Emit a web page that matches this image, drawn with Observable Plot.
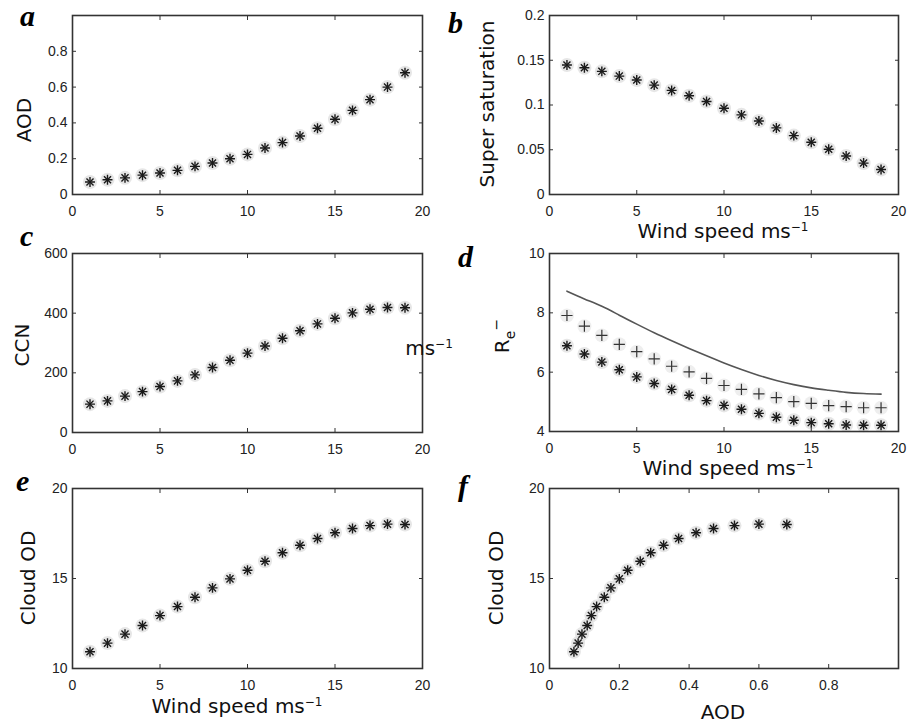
<!DOCTYPE html>
<html><head><meta charset="utf-8">
<script src="https://cdn.jsdelivr.net/npm/d3@7"></script>
<script src="https://cdn.jsdelivr.net/npm/@observablehq/plot@0.6"></script>
<style>
body{margin:0;background:#fff;}
#fig{position:relative;width:907px;height:724px;overflow:hidden;background:#fff;}
#fig svg{position:absolute;overflow:visible;}
.lab{font-family:"DejaVu Sans",sans-serif;font-size:20px;fill:#111;}
.let{font-family:"Liberation Serif",serif;font-weight:bold;font-style:italic;font-size:30px;fill:#000;}
</style></head><body><div id="fig"></div>
<script>
// ---- data ----
const windSpeed = [1,2,3,4,5,6,7,8,9,10,11,12,13,14,15,16,17,18,19];
const aod = [0.07,0.082,0.093,0.108,0.12,0.135,0.157,0.176,0.2,0.224,0.26,0.29,0.327,0.37,0.42,0.47,0.53,0.6,0.68];
const superSat = [0.1447,0.1417,0.1376,0.1323,0.1279,0.1222,0.1163,0.1103,0.1039,0.0964,0.089,0.0822,0.0744,0.0658,0.0583,0.0505,0.043,0.0351,0.028];
const ccn = [95,106,122,137,154,173,193,218,242,266,290,316,341,364,383,401,413,419,418];
const reStar = [6.89,6.61,6.34,6.08,5.84,5.62,5.42,5.22,5.04,4.88,4.75,4.61,4.48,4.38,4.30,4.26,4.22,4.21,4.21];
const rePlus = [7.91,7.55,7.24,6.94,6.69,6.45,6.20,6.01,5.79,5.55,5.42,5.27,5.14,5.01,4.95,4.87,4.84,4.80,4.80];
const reLine = [8.73,8.47,8.22,7.92,7.62,7.33,7.06,6.80,6.55,6.31,6.09,5.89,5.72,5.58,5.47,5.39,5.32,5.28,5.26];
const cloudOD = [10.93,11.41,11.91,12.39,12.94,13.44,13.96,14.48,14.98,15.46,15.96,16.43,16.85,17.22,17.54,17.78,17.94,18.02,18.0];

const windTicks = [0,5,10,15,20];
const aodTicks = [0,0.2,0.4,0.6,0.8];
const ssTicks = [0,0.05,0.1,0.15,0.2];
const ccnTicks = [0,200,400,600];
const reTicks = [4,6,8,10];
const codTicks = [10,15,20];

const fig = document.getElementById("fig");
const fmt = d => String(d);

function stars(xs, ys) {
  return [
    Plot.dot(xs, {x: xs, y: ys, r: 7, fill: "#dcdcdc", fillOpacity: 0.7, stroke: "none"}),
    Plot.dot(xs, {x: xs, y: ys, symbol: "plus", r: 3.3, stroke: "#1a1a1a", strokeWidth: 1.4}),
    Plot.dot(xs, {x: xs, y: ys, symbol: "times", r: 3.3, stroke: "#1a1a1a", strokeWidth: 1.4})
  ];
}

function panel(cfg) {
  const svg = Plot.plot({
    width: cfg.w, height: cfg.h,
    marginLeft: cfg.ml, marginRight: cfg.mr, marginTop: cfg.mt, marginBottom: cfg.mb,
    style: {fontFamily: '"Liberation Sans", Arial, sans-serif', fontSize: "14px", color: "#222", background: "none", overflow: "visible"},
    x: {domain: cfg.xDomain},
    y: {domain: cfg.yDomain},
    marks: [
      ...cfg.marks,
      Plot.axisX(cfg.xTicks, {anchor: "bottom", tickSize: -4, tickPadding: 16, tickFormat: fmt, label: null, stroke: "#333"}),
      Plot.axisX(cfg.xTicks, {anchor: "top", tickSize: -4, tickFormat: () => "", label: null, stroke: "#333"}),
      Plot.axisY(cfg.yTicks, {anchor: "left", tickSize: -4, tickPadding: 9, tickFormat: fmt, label: null, stroke: "#333"}),
      Plot.axisY(cfg.yTicks, {anchor: "right", tickSize: -4, tickFormat: () => "", label: null, stroke: "#333"}),
      Plot.frame({stroke: "#333", strokeWidth: 1.6})
    ]
  });
  svg.style.left = cfg.left + "px";
  svg.style.top = cfg.top + "px";
  const s = d3.select(svg);
  if (cfg.ylab) {
    const t = s.append("text").attr("class", "lab")
      .attr("text-anchor", "middle")
      .attr("transform", `translate(${cfg.ylab.x},${cfg.ylab.y}) rotate(-90)`)
      .attr("dy", "0.36em");
    cfg.ylab.parts.forEach(p => {
      const ts = t.append("tspan").text(p.t);
      if (p.dy) ts.attr("dy", p.dy);
      if (p.size) ts.style("font-size", p.size + "px");
    });
  }
  if (cfg.xlab) {
    const t = s.append("text").attr("class", "lab")
      .attr("text-anchor", "middle")
      .attr("x", cfg.xlab.x).attr("y", cfg.xlab.y);
    cfg.xlab.parts.forEach(p => {
      const ts = t.append("tspan").text(p.t);
      if (p.dy) ts.attr("dy", p.dy);
      if (p.size) ts.style("font-size", p.size + "px");
    });
  }
  if (cfg.extra) cfg.extra(s);
  fig.appendChild(svg);
}

const windLabel = [{t: "Wind speed ms"}, {t: "\u22121", dy: -7, size: 12}];

// a
panel({left: 0, top: 0, w: 453, h: 240, ml: 72, mr: 31, mt: 15, mb: 46,
  xDomain: [0, 20], yDomain: [0, 1], xTicks: windTicks, yTicks: aodTicks,
  marks: stars(windSpeed, aod),
  ylab: {x: 24, y: 120, parts: [{t: "AOD"}]}});
// b
panel({left: 453, top: 0, w: 454, h: 240, ml: 96, mr: 9, mt: 15, mb: 46,
  xDomain: [0, 20], yDomain: [0, 0.2], xTicks: windTicks, yTicks: ssTicks,
  marks: stars(windSpeed, superSat),
  ylab: {x: 34, y: 104, parts: [{t: "Super saturation"}]},
  xlab: {x: 270, y: 238, parts: windLabel}});
// c
panel({left: 0, top: 240, w: 453, h: 240, ml: 72, mr: 31, mt: 13, mb: 48,
  xDomain: [0, 20], yDomain: [0, 600], xTicks: windTicks, yTicks: ccnTicks,
  marks: stars(windSpeed, ccn),
  ylab: {x: 22, y: 105, parts: [{t: "CCN"}]},
  extra: s => {
    const t = s.append("text").attr("class", "lab").attr("x", 429).attr("y", 115);
    t.append("tspan").text("ms");
    t.append("tspan").text("\u22121").attr("dy", -7).style("font-size", "12px");
  }});
// d
panel({left: 453, top: 240, w: 454, h: 240, ml: 96, mr: 9, mt: 13, mb: 49,
  xDomain: [0, 20], yDomain: [4, 10], xTicks: windTicks, yTicks: reTicks,
  marks: [
    Plot.line(windSpeed, {x: windSpeed, y: reLine, curve: "natural", stroke: "#555", strokeWidth: 1.6}),
    Plot.dot(windSpeed, {x: windSpeed, y: rePlus, r: 7, fill: "#e2e2e2", fillOpacity: 0.6, stroke: "none"}),
    Plot.dot(windSpeed, {x: windSpeed, y: rePlus, symbol: "plus", r: 3.7, stroke: "#333", strokeWidth: 1.2}),
    ...stars(windSpeed, reStar)
  ],
  ylab: {x: 49, y: 96, parts: [{t: "R"}, {t: "e", dy: 6, size: 14}, {t: "\u2212", dy: -14, size: 14}]},
  xlab: {x: 275, y: 235, parts: windLabel}});
// e
panel({left: 0, top: 480, w: 453, h: 244, ml: 72, mr: 31, mt: 8, mb: 56,
  xDomain: [0, 20], yDomain: [10, 20], xTicks: windTicks, yTicks: codTicks,
  marks: stars(windSpeed, cloudOD),
  ylab: {x: 28, y: 98, parts: [{t: "Cloud OD"}]},
  xlab: {x: 237, y: 233, parts: windLabel}});
// f
panel({left: 453, top: 480, w: 454, h: 244, ml: 96, mr: 9, mt: 8, mb: 56,
  xDomain: [0, 1], yDomain: [10, 20], xTicks: aodTicks, yTicks: codTicks,
  marks: stars(aod, cloudOD),
  ylab: {x: 43, y: 98, parts: [{t: "Cloud OD"}]},
  xlab: {x: 270, y: 239, parts: [{t: "AOD"}]}});

// panel letters
const letters = [
  {t: "a", x: 20, y: 26}, {t: "b", x: 448, y: 33}, {t: "c", x: 20, y: 246},
  {t: "d", x: 458, y: 267}, {t: "e", x: 16, y: 491}, {t: "f", x: 458, y: 496}
];
const ov = d3.select(fig).append("svg").attr("width", 907).attr("height", 724)
  .style("left", "0px").style("top", "0px").style("pointer-events", "none");
ov.selectAll("text").data(letters).join("text").attr("class", "let")
  .attr("x", d => d.x).attr("y", d => d.y).text(d => d.t);
</script>
</body></html>
